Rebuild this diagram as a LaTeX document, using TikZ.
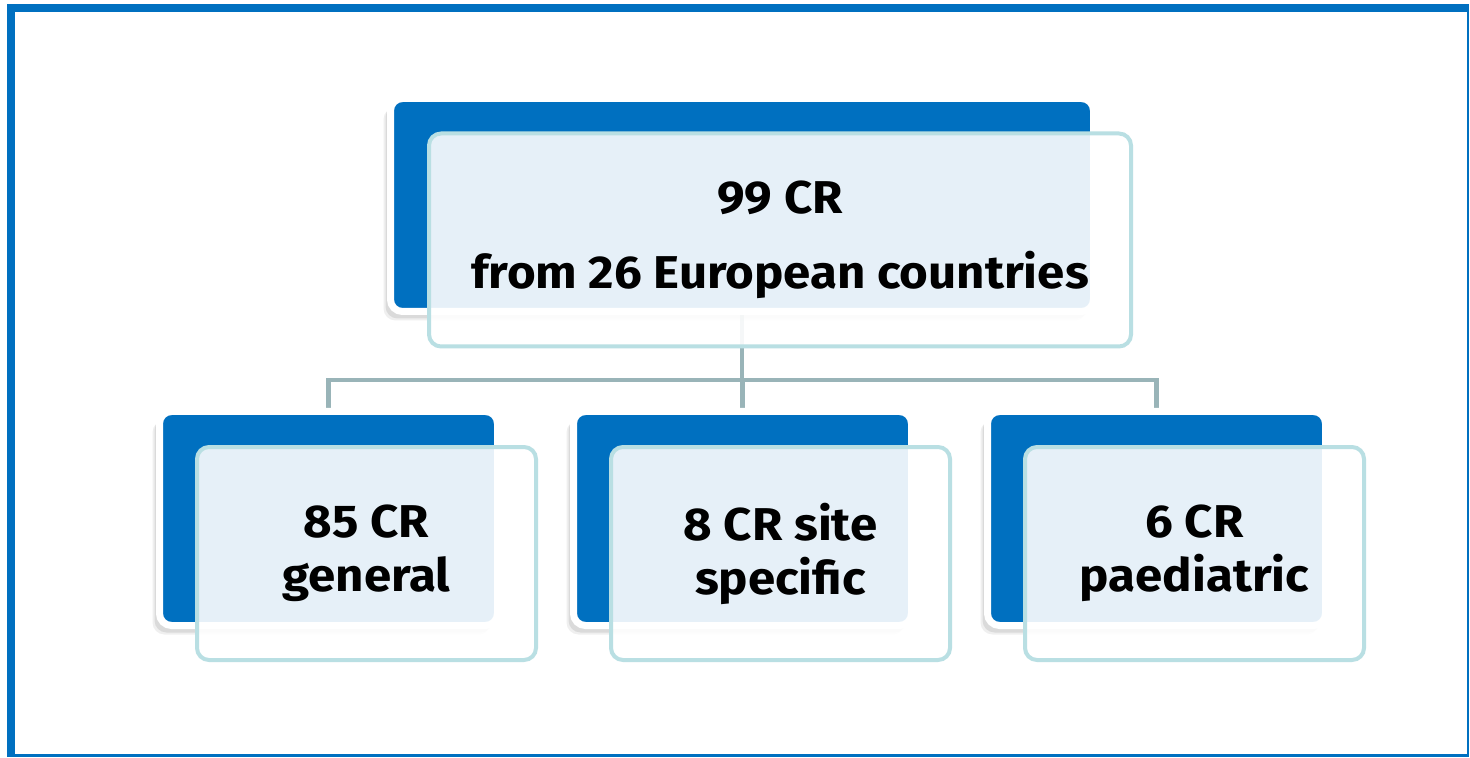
\documentclass[tikz,border=0pt]{standalone}
\usepackage{fontspec}
\setmainfont{Fira Sans}
\newfontfamily\crfont[FakeStretch=1.07]{Fira Sans}
\usepackage{tikz}
\usepackage{xcolor}
\usetikzlibrary{positioning,calc,shadows,backgrounds}
\definecolor{eublue}{HTML}{0070C0}
\definecolor{cardline}{HTML}{B9DFE3}
\definecolor{linkgray}{HTML}{99B4B8}

\begin{document}
\begin{tikzpicture}[x=0.5pt,y=-0.5pt,
    back/.style={rounded corners=6pt,fill=eublue,draw=white,line width=3.5pt,inner sep=0pt,outer sep=0pt,minimum width=169pt,minimum height=107pt,
        drop shadow={shadow xshift=-3.5pt,shadow yshift=-4.5pt,opacity=.12},
        drop shadow={shadow xshift=-2.5pt,shadow yshift=-3.5pt,opacity=.18}},
    card/.style={rounded corners=6pt,fill=white,fill opacity=.9,text opacity=1,draw=cardline,line width=2pt,inner sep=0pt,align=center,minimum width=169.5pt,minimum height=106.5pt,font=\crfont\bfseries\fontsize{23}{27}\selectfont},
    link/.style={draw=linkgray,line width=2.25pt}]
    \useasboundingbox (0,0) rectangle (1470,758);
    % frame
    \begin{scope}[on background layer]
        \fill[eublue] (7,4) rectangle (1469,757);
        \fill[white] (15,12) rectangle (1467,754);
    \end{scope}
    % top level
    \node[back,minimum width=351.5pt,minimum height=106.5pt] (crall) at (742,205) {};
    \node[card,minimum width=351pt] (crallcl) at ($(crall)+(38,35)$) {99 CR\\[10.5pt]from 26 European countries};
    % second level
    \node[back] (crgen) at (328.5,518.5) {};
    \node[back,right=38pt of crgen] (crsite) {};
    \node[back,right=38pt of crsite] (crped) {};
    \node[card] (crgencl) at ($(crgen)+(38,35)$) {85 CR\\general};
    \node[card] (crsitecl) at ($(crsite)+(38,35)$) {8 CR site\\specific};
    \node[card] (crpedcl) at ($(crped)+(38,35)$) {6 CR\\paediatric};
    % connectors
    \coordinate (bus) at (742,380);
    \begin{scope}[on background layer]
        \draw[link] (crall.south) -- (bus);
        \draw[link] (crgen.north) |- (bus) -| (crped.north);
        \draw[link] (crsite.north) -- (crsite.north |- bus);
    \end{scope}
\end{tikzpicture}
\end{document}
